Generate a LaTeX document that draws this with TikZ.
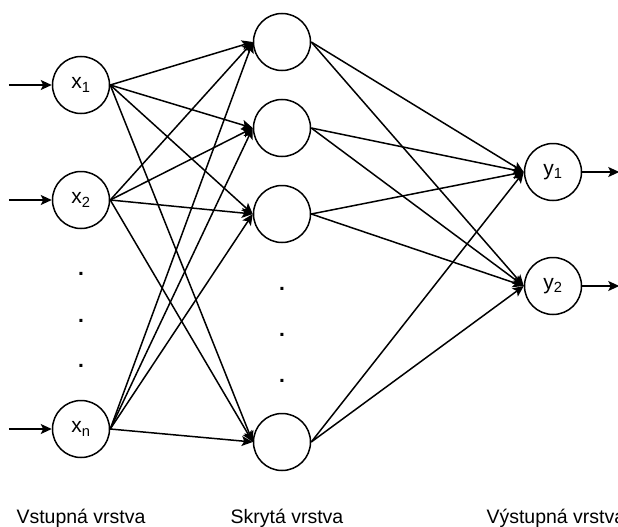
\documentclass[tikz,border=0pt]{standalone}
\usepackage{fontspec}
\setmainfont{Liberation Sans}
\usetikzlibrary{arrows.meta}
\tikzset{
	neuron/.style={draw, circle, line width=1.5pt, minimum size=57pt, inner sep=0pt, font=\fontsize{21}{25}\selectfont},
	link/.style={line width=1.5pt, -{Stealth[length=11pt,width=10pt,inset=2.5pt]}},
	tecka/.style={inner sep=0pt, font=\fontsize{21}{25}\selectfont\bfseries}
}
\begin{document}
\begin{tikzpicture}[x=1pt, y=-1pt, font=\fontsize{19.5}{23}\selectfont]
			\useasboundingbox (0,0) rectangle (618,527);
			% vrstvy
			\foreach \i\j in {1/85,2/200,n/429}{
				\node[neuron] (x\i) at (81,\j) {x\textsubscript{\i}};
			}
			\foreach \i\j in {1/42,2/128,3/214,4/442}{
				\node[neuron] (h\i) at (282,\j) {};
			}
			\foreach \i\j in {1/172,2/286}{
				\node[neuron] (y\i) at (553,\j) {y\textsubscript{\i}};
			}
			% tecky
			\foreach \j in {274,321,366}{
				\node[tecka] (vd\j) at (81,\j) {.};
			}
			\foreach \j in {289,335,381}{
				\node[tecka] (hd\j) at (282,\j) {.};
			}
			% vstupy a vystupy
			\foreach \i in {1,2,n}{
				\coordinate (in\i) at ([xshift=-43pt]x\i.west);
				\draw[link] (in\i) -- (x\i.west);
			}
			\foreach \i in {1,2}{
				\coordinate (out\i) at ([xshift=37pt]y\i.east);
				\draw[link] (y\i.east) -- (out\i);
			}
			% spojeni
			\foreach \a in {1,2,n}{
				\foreach \b in {1,...,4}{
					\draw[link] (x\a.east) -- (h\b.west);
				}
			}
			\foreach \b in {1,...,4}{
				\foreach \c in {1,2}{
					\draw[link] (h\b.east) -- (y\c.west);
				}
			}
			% popisky
			\node[anchor=base] (lv) at (81,523) {Vstupná vrstva};
			\node[anchor=base] (ls) at (287,523) {Skrytá vrstva};
			\node[anchor=base west] (lo) at (483,523) {Výstupná vrstva};
		\end{tikzpicture}
\end{document}
